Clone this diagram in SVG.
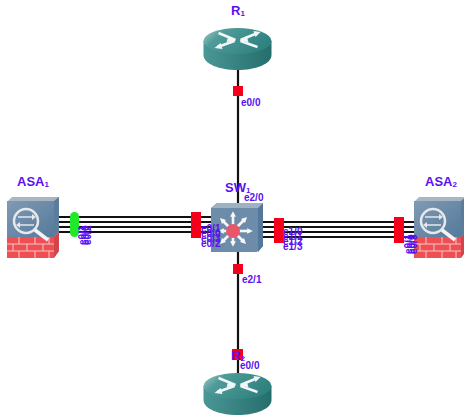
<svg xmlns="http://www.w3.org/2000/svg" width="464" height="420" viewBox="0 0 464 420">
<style>
text{font-family:"Liberation Sans",Arial,sans-serif;fill:#5a10f0}
.t{font-size:13px;font-weight:bold}
.l{font-size:10px;font-weight:bold}
.w{stroke:#111;stroke-width:2.2;fill:none}
.r{fill:#f5001a}
</style>
<defs>
<linearGradient id="rt" x1="0" x2="1" y1="0" y2="0.4"><stop offset="0" stop-color="#a9cbc9"/><stop offset="0.3" stop-color="#4f9b99"/><stop offset="1" stop-color="#2f8280"/></linearGradient>
<linearGradient id="rs" x1="0" x2="1" y1="0" y2="0"><stop offset="0" stop-color="#4a9795"/><stop offset="1" stop-color="#246e6d"/></linearGradient>
<linearGradient id="asa" x1="0" x2="1" y1="0" y2="1"><stop offset="0" stop-color="#7f9ab4"/><stop offset="1" stop-color="#557a9b"/></linearGradient>
<marker id="ah" viewBox="0 0 6 6" refX="3" refY="3" markerWidth="2.2" markerHeight="2.2" orient="auto"><path d="M0 0L6 3L0 6Z" fill="#f4f6f8"/></marker>
<g id="router">
<path d="M-34 -11V3C-34 12 -18 18 0 18S34 12 34 3V-11Z" fill="url(#rs)"/>
<ellipse cx="0" cy="-11" rx="34" ry="13" fill="url(#rt)"/>
<path d="M-2 -12L-19 -19M-3 -11L-20 -5M3 -12L20 -19M3 -11L20 -5" stroke="#f2f6f6" stroke-width="2.5" fill="none"/>
<path d="M-2 -11l-7 -5l-2 6zM-23 -4l6 -5l2 6zM23 -20l-7 -1l2 6zM2 -11l7 -5l2 6z" fill="#f2f6f6"/>
</g>
<g id="asaicon">
<path d="M0 5L5 0H52V54L47 61H0Z" fill="#a9b6c2"/>
<rect x="0" y="4" width="47" height="36" fill="url(#asa)"/>
<path d="M47 4L52 0V35L47 40Z" fill="#5a7d9c"/>
<rect x="0" y="40" width="47" height="21" fill="#ef4e52"/>
<path d="M47 40L52 35V54L47 61Z" fill="#d3444a"/>
<path d="M0 47H47M0 54H47M12 40V47M28 40V47M42 40V47M6 47V54M20 47V54M36 47V54M12 54V61M28 54V61M42 54V61" stroke="#f4c9c9" stroke-width="1" fill="none"/>
<circle cx="19" cy="24" r="12" fill="none" stroke="#e6e8ea" stroke-width="2.5"/>
<path d="M28 33L41 43" stroke="#f2f4f6" stroke-width="3.5"/>
<path d="M11 20H26M27 28H12" stroke="#e6e8ea" stroke-width="1.6"/>
<path d="M25 17l4 3l-4 3zM13 25l-4 3l4 3z" fill="#e6e8ea"/>
</g>
</defs>
<g id="connectors">
<path class="w" d="M238 70V203M238 252V374"/>
<path class="w" d="M59 217H211M59 222H211M59 227H211M59 232H211"/>
<path class="w" d="M262 222H415M262 227H415M262 232H415M262 237H415"/>
</g>
<g id="R1">
<use href="#router" x="237.5" y="52"/>
<text class="t" x="231" y="15">R<tspan font-size="8" dy="1">1</tspan></text>
</g>
<g id="R2">
<use href="#router" x="237.5" y="397"/>
</g>
<g id="ASA1">
<use href="#asaicon" x="7" y="197"/>
<text class="t" x="17" y="186">ASA<tspan font-size="8" dy="1">1</tspan></text>
</g>
<g id="ASA2">
<use href="#asaicon" x="414" y="197"/>
<text class="t" x="425" y="186">ASA<tspan font-size="8" dy="1">2</tspan></text>
</g>
<g id="SW1">
<path d="M211 208L217 203H263V246L257 252H211Z" fill="#6d8caa"/>
<path d="M258 208L263 203V246L258 252Z" fill="#54789a"/>
<path d="M211 208L217 203H263L258 208Z" fill="#9fb2c4"/>
<g stroke="#f4f6f8" stroke-width="2.6" fill="none" marker-end="url(#ah)">
<path d="M233 231L233 214"/><path d="M233 231L250 231"/><path d="M233 231L221 231"/><path d="M233 231L233 244"/>
<path d="M233 231L222 220"/><path d="M233 231L245 219"/><path d="M233 231L222 242"/><path d="M233 231L244 242"/>
</g>
<circle cx="233" cy="231" r="7" fill="#e8566c"/>
<text class="t" x="225" y="192">SW<tspan font-size="8" dy="1">1</tspan></text>
</g>
<g id="ports">
<rect class="r" x="233" y="86" width="10" height="10"/>
<rect class="r" x="233" y="264" width="10" height="10"/>
<rect class="r" x="232" y="349" width="11" height="11"/>
<rect class="r" x="191" y="212" width="10" height="26"/>
<rect class="r" x="274" y="218" width="10" height="25"/>
<rect class="r" x="394" y="217" width="10" height="26"/>
<rect x="70" y="212" width="9" height="25" rx="4.5" fill="#22e82a"/>
</g>
<g id="labels">
<text class="l" x="241" y="106">e0/0</text>
<text class="l" x="244" y="201">e2/0</text>
<text class="l" x="242" y="283">e2/1</text>
<text class="l" x="240" y="369">e0/0</text>
<text class="t" x="231" y="360">R<tspan font-size="8" dy="1">2</tspan></text>
<text class="l" x="201" y="232">e0/1</text>
<text class="l" x="201" y="237">e0/0</text>
<text class="l" x="201" y="242">e0/3</text>
<text class="l" x="201" y="247">e0/2</text>
<text class="l" x="283" y="235">e1/0</text>
<text class="l" x="283" y="240">e1/1</text>
<text class="l" x="283" y="245">e1/2</text>
<text class="l" x="283" y="250">e1/3</text>
<text class="l" transform="translate(86 245) rotate(-90)">e0/1</text>
<text class="l" transform="translate(88.5 245) rotate(-90)">e0/0</text>
<text class="l" transform="translate(91 245) rotate(-90)">e0/2</text>
<text class="l" transform="translate(412 254) rotate(-90)">e0/1</text>
<text class="l" transform="translate(414.5 254) rotate(-90)">e0/0</text>
<text class="l" transform="translate(417 254) rotate(-90)">e0/3</text>
</g>
</svg>
